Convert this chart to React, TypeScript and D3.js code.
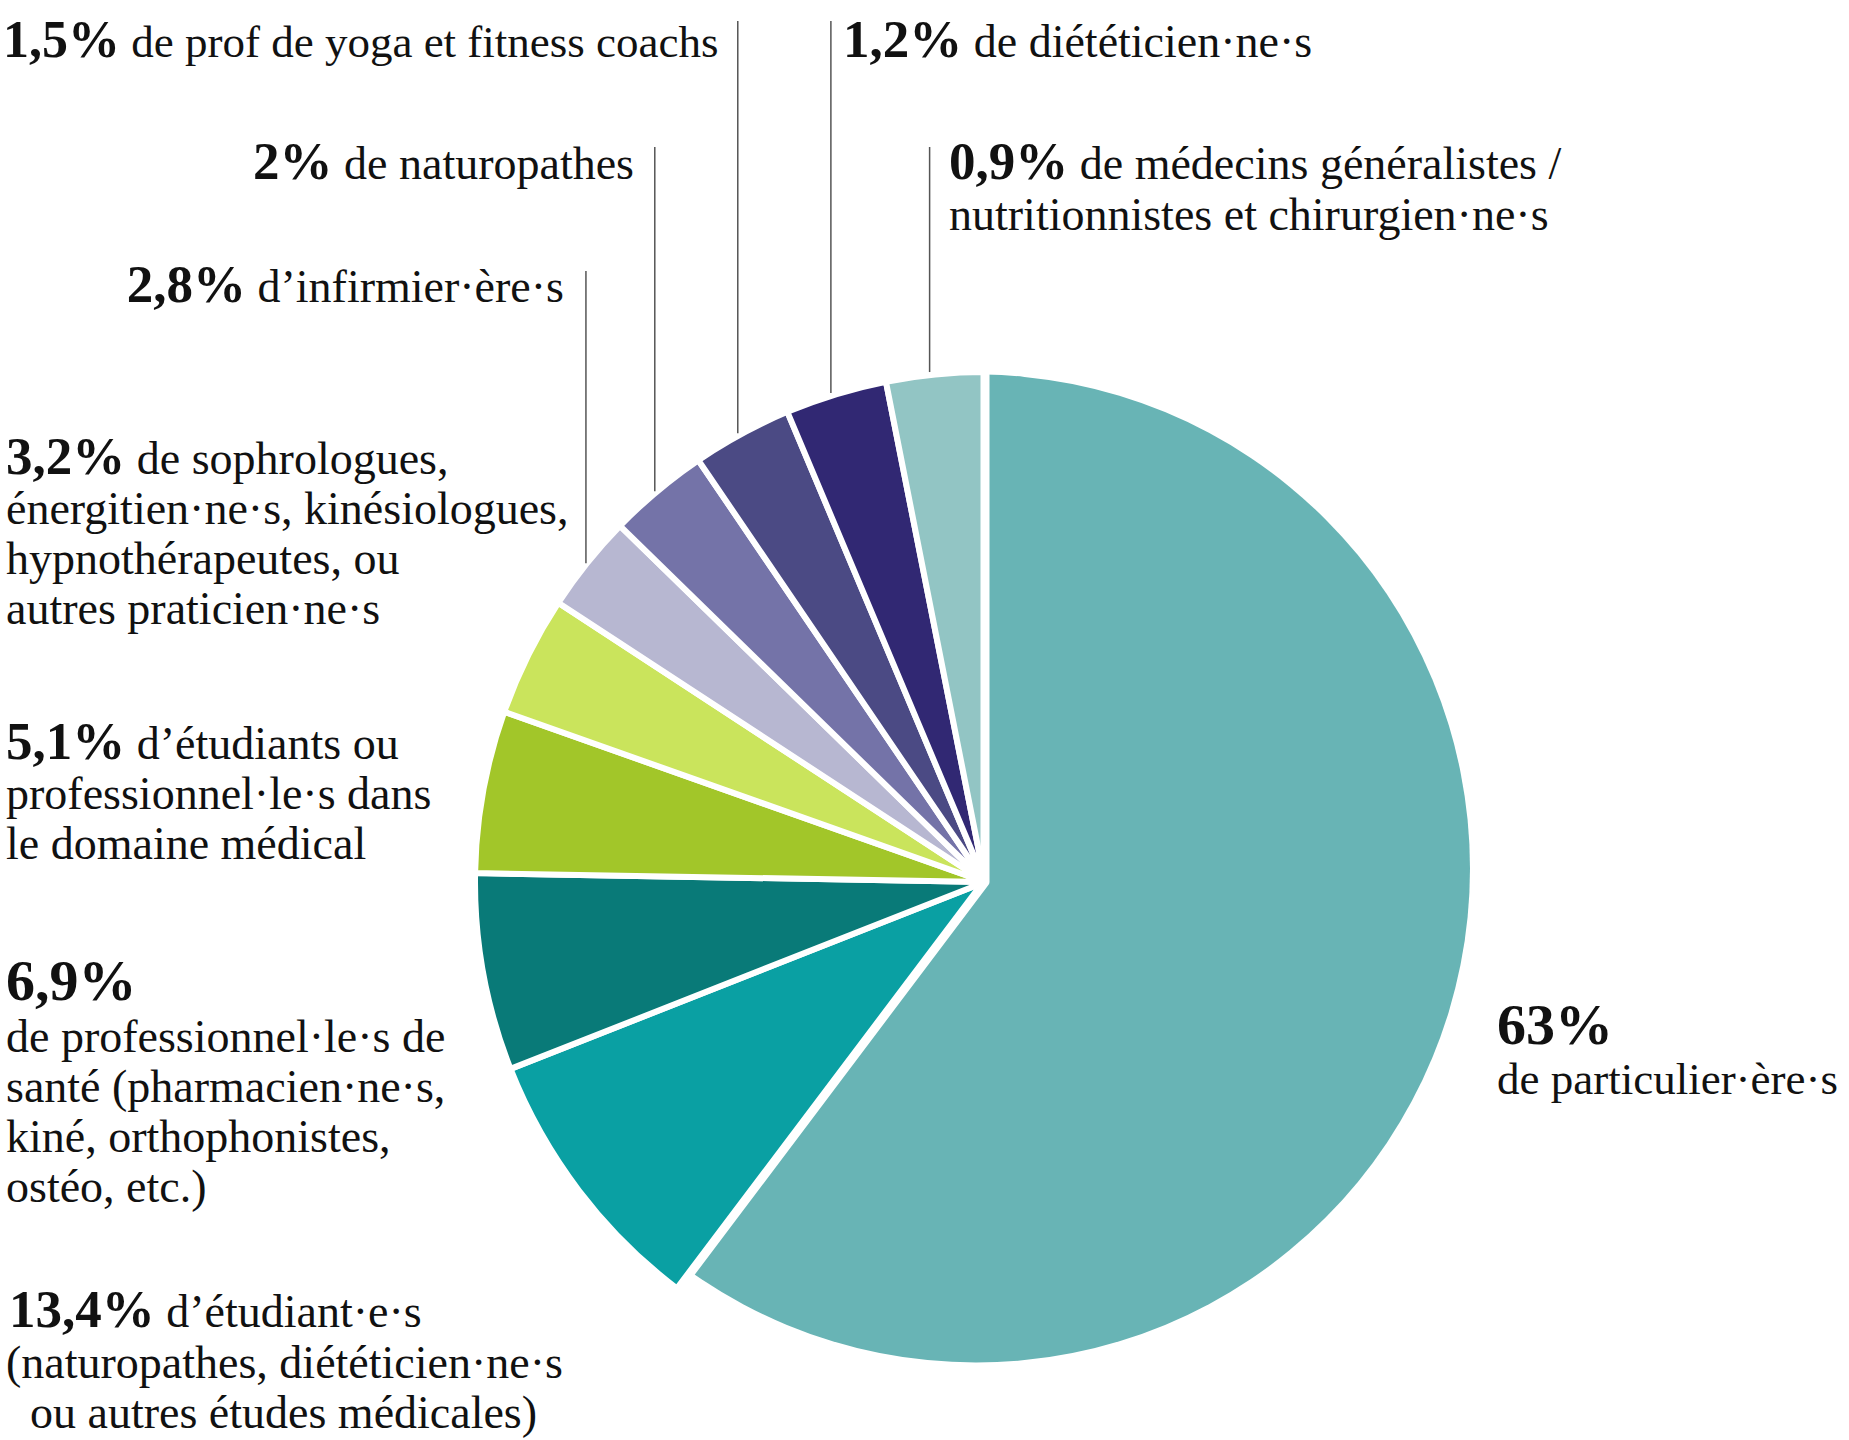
import React from "react";
import * as d3 from "d3";

// ---------- data ----------
const shareLabels = ["63%", "13,4%", "6,9%", "5,1%", "3,2%", "2,8%", "2%", "1,5%", "1,2%", "0,9%"];
const shares = [63, 13.4, 6.9, 5.1, 3.2, 2.8, 2, 1.5, 1.2, 0.9];
// Angular extent (degrees) of each slice as drawn in the reference (the original is not to scale)
const sliceDegrees = [217, 31.5, 22.5, 18.5, 13.7, 11.1, 11.5, 11.4, 11.6, 11.2];
// Text following the percentage on its first line ("" = percentage alone)
const firstLines = [
  "",
  "d’étudiant·e·s",
  "",
  "d’étudiants ou",
  "de sophrologues,",
  "d’infirmier·ère·s",
  "de naturopathes",
  "de prof de yoga et fitness coachs",
  "de diététicien·ne·s",
  "de médecins généralistes /",
];
const moreLines = [
  ["de particulier·ère·s"],
  ["(naturopathes, diététicien·ne·s", "ou autres études médicales)"],
  ["de professionnel·le·s de", "santé (pharmacien·ne·s,", "kiné, orthophonistes,", "ostéo, etc.)"],
  ["professionnel·le·s dans", "le domaine médical"],
  ["énergitien·ne·s, kinésiologues,", "hypnothérapeutes, ou", "autres praticien·ne·s"],
  [],
  [],
  [],
  [],
  ["nutritionnistes et chirurgien·ne·s"],
];
const colors = [
  "#68b4b5", "#0aa0a3", "#097a78", "#a2c629", "#cae45c",
  "#b7b7d1", "#7473a8", "#4b4a84", "#312873", "#92c5c4",
];

// ---------- layout (style) ----------
const W = 1849;
const H = 1440;
const CX = 985;
const CY = 882;
// the big slice's rim is a circle whose centre is slightly offset from the pie apex
const BIG_DX = -9;
const BIG_DY = -13.5;
const R_BIG = 494;
const R_SMALL = 510;
const R_VIS = 507;
const FONT = "'Liberation Serif', 'Times New Roman', serif";
const TEXT_SIZE = 46;
const LINE_GAP = 50;

type Lay = {
  x: number; y: number; anchor: "start" | "end"; num: number;
  restY?: number; restX?: number[]; size?: number; leaderTop?: number;
};
const layout: Lay[] = [
  { x: 1497, y: 1044, anchor: "start", num: 58, restY: 1094, size: 45 },
  { x: 9, y: 1327, anchor: "start", num: 53, restY: 1378, restX: [6, 30] },
  { x: 6, y: 1000, anchor: "start", num: 58, restY: 1052 },
  { x: 6, y: 759, anchor: "start", num: 53 },
  { x: 6, y: 474, anchor: "start", num: 53 },
  { x: 564, y: 302, anchor: "end", num: 53, leaderTop: 271 },
  { x: 634, y: 179, anchor: "end", num: 53, leaderTop: 147 },
  { x: 3, y: 57, anchor: "start", num: 52, leaderTop: 21, size: 45 },
  { x: 843, y: 57, anchor: "start", num: 53, leaderTop: 21 },
  { x: 949, y: 179, anchor: "start", num: 53, restY: 230, leaderTop: 147 },
];

export default function App() {
  const pie = d3
    .pie<number>()
    .sort(null)
    .value((d) => d)
    .startAngle(0)
    .endAngle(2 * Math.PI);
  const arcs = pie(sliceDegrees);
  const arcGen = d3.arc<any>();

  const small = arcs.slice(1).map((a, k) => ({
    i: k + 1,
    d: arcGen({
      innerRadius: 0,
      outerRadius: R_SMALL,
      startAngle: a.startAngle,
      endAngle: a.endAngle,
    }) as string,
  }));
  const big = arcs[0];
  // wedge of the big slice from the apex (large radius, used as clip + gap stroke)
  const bigWedge = arcGen({
    innerRadius: 0,
    outerRadius: R_BIG + 60,
    startAngle: big.startAngle,
    endAngle: big.endAngle,
  }) as string;
  // full disc for the big slice's rim, centred slightly off the apex
  const bigDisc = arcGen({
    innerRadius: 0,
    outerRadius: R_BIG,
    startAngle: 0,
    endAngle: 2 * Math.PI,
  }) as string;

  return (
    <svg
      width={W}
      height={H}
      viewBox={`0 0 ${W} ${H}`}
      style={{ position: "absolute", left: 0, top: 0, display: "block", background: "#fff" }}
      fontFamily={FONT}
    >
      <defs>
        <clipPath id="bigClip">
          <path d={bigWedge} transform={`translate(${CX},${CY})`} />
        </clipPath>
      </defs>
      <rect width={W} height={H} fill="#fff" />
      <g transform={`translate(${CX},${CY})`}>
        {small.map((s) => (
          <path
            key={s.i}
            d={s.d}
            fill={colors[s.i]}
            stroke="#fff"
            strokeWidth={6}
            strokeLinejoin="round"
          />
        ))}
      </g>
      <g clipPath="url(#bigClip)">
        <path
          d={bigDisc}
          transform={`translate(${CX + BIG_DX},${CY + BIG_DY})`}
          fill={colors[0]}
        />
      </g>
      <path
        d={bigWedge}
        transform={`translate(${CX},${CY})`}
        fill="none"
        stroke="#fff"
        strokeWidth={9}
        strokeLinejoin="round"
      />

      {/* leader lines */}
      {arcs.map((a, i) => {
        const L = layout[i];
        if (L.leaderTop === undefined) return null;
        const ang = a.startAngle + 0.44 * (a.endAngle - a.startAngle);
        const x = CX + R_VIS * Math.sin(ang);
        const y = CY - R_VIS * Math.cos(ang) - 6;
        return (
          <line
            key={`l${i}`}
            x1={x}
            x2={x}
            y1={L.leaderTop}
            y2={y}
            stroke="#555"
            strokeWidth={1.5}
          />
        );
      })}

      {/* labels */}
      {shareLabels.map((lab, i) => {
        const L = layout[i];
        const size = L.size ?? TEXT_SIZE;
        const restY = L.restY ?? L.y + LINE_GAP;
        return (
          <g key={`t${i}`} fill="#111">
            <text x={L.x} y={L.y} textAnchor={L.anchor} fontSize={size}>
              <tspan fontWeight={700} fontSize={L.num}>
                {lab}
              </tspan>
              {firstLines[i] ? <tspan>{" " + firstLines[i]}</tspan> : null}
            </text>
            {moreLines[i].map((line, j) => (
              <text
                key={j}
                x={L.restX ? L.restX[j] : L.x}
                y={restY + j * LINE_GAP}
                textAnchor={L.anchor}
                fontSize={size}
              >
                {line}
              </text>
            ))}
          </g>
        );
      })}
    </svg>
  );
}
